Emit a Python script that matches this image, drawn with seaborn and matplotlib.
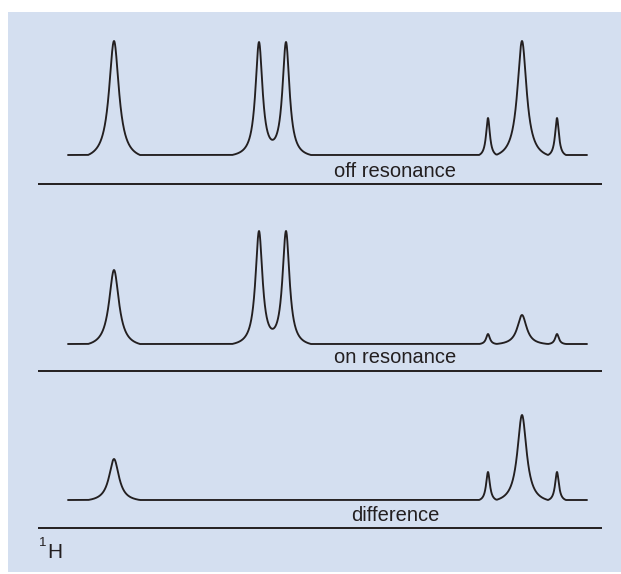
import numpy as np
import pandas as pd
import matplotlib
matplotlib.use("Agg")
import matplotlib.pyplot as plt
from matplotlib.patches import Rectangle
import seaborn as sns

# ---- data (peak list; arbitrary shift units) ----
peak_pos = [114, 259, 286, 488, 522, 557]
peak_hwhm = [6.0, 4.3, 4.3, 2.3, 5.6, 2.3]
peak_support = [26, 27, 25, 9, 26, 9]
off_resonance = [114, 113, 113, 37, 114, 37]
on_resonance = [74, 113, 113, 10, 29, 10]
difference = [41, 0, 0, 28, 85, 28]
labels = ["off resonance", "on resonance", "difference"]
nucleus = "H"
nucleus_mass = "1"

# ---- layout / style ----
W, H = 621, 574
ink = "#231f20"
bg = "#d4dff0"
baselines = [H - 155, H - 344, H - 500]
rules = [H - 184, H - 371, H - 528]
text_y = [H - 177, H - 363, H - 521]
x_start, x_end = 68, 587
rule_start, rule_end = 38, 602


def spectrum(x, heights):
    y = np.zeros_like(x)
    for c, w, s, h in zip(peak_pos, peak_hwhm, peak_support, heights):
        L = 1.0 / (1.0 + ((x - c) / w) ** 2)
        Ls = 1.0 / (1.0 + (s / w) ** 2)
        y += h * np.clip((L - Ls) / (1.0 - Ls), 0, None) * (np.abs(x - c) <= s)
    return y


sns.set_theme(style="white")
plt.rcParams["font.family"] = ["Liberation Sans", "DejaVu Sans"]

fig = plt.figure(figsize=(W / 100, H / 100), dpi=100)
fig.patch.set_facecolor("white")
ax = fig.add_axes([0, 0, 1, 1])
ax.set_xlim(0, W)
ax.set_ylim(0, H)
ax.axis("off")
ax.add_patch(Rectangle((8, H - 572), W - 8, 560, facecolor=bg, edgecolor="none", zorder=0))

x = np.linspace(x_start, x_end, 4000)
frames = []
for name, heights, base in zip(labels, [off_resonance, on_resonance, difference], baselines):
    frames.append(pd.DataFrame({"x": x, "y": base + spectrum(x, heights), "spectrum": name}))
df = pd.concat(frames, ignore_index=True)

sns.lineplot(data=df, x="x", y="y", units="spectrum", estimator=None, sort=False,
             color=ink, linewidth=1.35, ax=ax, legend=False)

for name, ry, ty in zip(labels, rules, text_y):
    ax.plot([rule_start, rule_end], [ry, ry], color=ink, linewidth=1.4, solid_capstyle="butt")
    ax.text(395, ty, name, ha="center", va="baseline", fontsize=14.5, color=ink)

ax.text(39, H - 546, nucleus_mass, ha="left", va="baseline", fontsize=9.5, color=ink)
ax.text(47, H - 558, nucleus, ha="left", va="baseline", fontsize=15, color=ink)

fig.savefig("out.png", dpi=100, facecolor="white")
